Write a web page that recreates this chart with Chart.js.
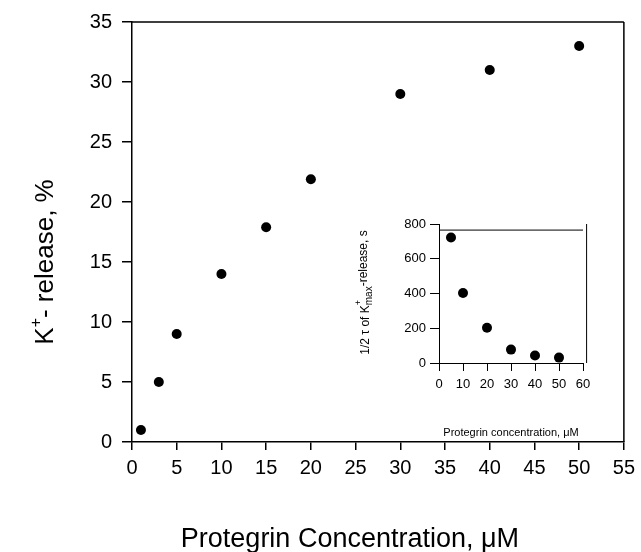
<!DOCTYPE html>
<html lang="en">
<head>
<meta charset="UTF-8">
<title>Protegrin K+ release</title>
<style>
  html, body { margin: 0; padding: 0; background: #fff; }
  .wrap { position: relative; width: 641px; height: 552px; }
  #mainChart { position: absolute; left: 0; top: 0; }
  #insetChart { position: absolute; left: 340px; top: 200px; }
</style>
</head>
<body>
<div class="wrap">
  <canvas id="mainChart" width="641" height="552"></canvas>
  <canvas id="insetChart" width="260" height="240"></canvas>
</div>
<script src="https://cdn.jsdelivr.net/npm/chart.js"></script>
<script>
// main panel: K+ release vs protegrin concentration
var concMain = [1, 3, 5, 10, 15, 20, 30, 40, 50];
var releaseMain = [1, 5, 9, 14, 17.9, 21.9, 29, 31, 33];

// inset: half time of max K+ release
var concInset = [5, 10, 20, 30, 40, 50];
var halfTimeInset = [722, 403, 203, 77, 43, 31];

var FONT = '"Liberation Sans", Arial, sans-serif';
Chart.defaults.font.family = FONT;
Chart.defaults.color = '#000';

function toPoints(xs, ys) {
    return xs.map(function (x, i) { return { x: x, y: ys[i] }; });
}

// rotated axis title with super/subscripts
function drawRich(ctx, cx, cy, parts, size) {
    ctx.save();
    ctx.translate(cx, cy);
    ctx.rotate(-Math.PI / 2);
    ctx.fillStyle = '#000';
    ctx.textBaseline = 'alphabetic';
    var total = 0;
    parts.forEach(function (p) {
        ctx.font = (p.size || size) + 'px ' + FONT;
        p.w = ctx.measureText(p.text).width;
        if (!p.noAdvance) total += p.w;
    });
    var x = -total / 2;
    var base = size * 0.35;
    parts.forEach(function (p) {
        ctx.font = (p.size || size) + 'px ' + FONT;
        ctx.fillText(p.text, x, base + (p.dy || 0));
        if (!p.noAdvance) x += p.w;
    });
    ctx.restore();
}

var framePlugin = {
    id: 'frame',
    afterDraw: function (chart, args, opts) {
        var ctx = chart.ctx, a = chart.chartArea, s = chart.scales;
        var top = opts.topValue != null ? s.y.getPixelForValue(opts.topValue) : a.top;
        var right = opts.rightValue != null ? s.x.getPixelForValue(opts.rightValue) : a.right;
        ctx.save();
        ctx.strokeStyle = '#000';
        ctx.lineWidth = opts.lineWidth;
        ctx.beginPath();
        ctx.moveTo(a.left, top);
        ctx.lineTo(a.right, top);
        ctx.moveTo(right, a.top);
        ctx.lineTo(right, a.bottom);
        ctx.stroke();
        if (opts.xTitle) {
            var xt = opts.xTitle;
            ctx.font = xt.size + 'px ' + FONT;
            ctx.fillStyle = '#000';
            ctx.textAlign = 'center';
            ctx.textBaseline = 'alphabetic';
            ctx.fillText(xt.text, (a.left + a.right) / 2 + xt.dx, xt.baseline);
        }
        ctx.restore();
        var t = opts.yTitle;
        drawRich(ctx, t.x, (a.top + a.bottom) / 2 + t.dy, t.parts, t.size);
    }
};

function axisOpts(min, max, step, fontSize, tickLen, pad, lw) {
    return {
        type: 'linear',
        min: min,
        max: max,
        ticks: { stepSize: step, color: '#000', font: { size: fontSize }, padding: pad, maxRotation: 0 },
        grid: { drawOnChartArea: false, drawTicks: true, tickLength: tickLen, color: '#000', lineWidth: lw },
        border: { display: true, color: '#000', width: lw }
    };
}

// main chart
var mx = axisOpts(0, 55, 5, 20, 8, 6, 1.5);
mx.afterFit = function (scale) { scale.height = 110; };
var my = axisOpts(0, 35, 5, 20, 10, 10, 1.5);
my.afterFit = function (scale) { scale.width = 132; };

new Chart(document.getElementById('mainChart'), {
    type: 'scatter',
    data: {
        datasets: [{
            data: toPoints(concMain, releaseMain),
            pointRadius: 5,
            pointBackgroundColor: '#000',
            pointBorderWidth: 0
        }]
    },
    options: {
        responsive: false,
        animation: false,
        layout: { padding: { top: 22, right: 14, left: 0, bottom: 0 } },
        scales: { x: mx, y: my },
        plugins: {
            legend: { display: false },
            tooltip: { enabled: false },
            frame: {
                lineWidth: 1.5,
                xTitle: { text: 'Protegrin Concentration, μM', size: 27, dx: -28, baseline: 547 },
                yTitle: {
                    x: 44, dy: 30, size: 26,
                    parts: [{ text: 'K' }, { text: '+', size: 16, dy: -12 }, { text: '- release, %' }]
                }
            }
        }
    },
    plugins: [framePlugin]
});

// inset chart
var ix = axisOpts(0, 60, 10, 13, 8, 6, 1);
ix.title = { display: true, text: 'Protegrin concentration, μM', color: '#000',
    font: { size: 11, lineHeight: 1 }, padding: { top: 0, bottom: 2 } };
ix.afterFit = function (scale) { scale.height = 77; };
var iy = axisOpts(0, 800, 100, 13, 9, 4, 1);
iy.ticks.callback = function (v) { return v % 200 === 0 ? v : ''; };
iy.afterFit = function (scale) { scale.width = 99; };

new Chart(document.getElementById('insetChart'), {
    type: 'scatter',
    data: {
        datasets: [{
            data: toPoints(concInset, halfTimeInset),
            pointRadius: 5,
            pointBackgroundColor: '#000',
            pointBorderWidth: 0
        }]
    },
    options: {
        responsive: false,
        animation: false,
        layout: { padding: { top: 24, right: 17, left: 0, bottom: 0 } },
        scales: { x: ix, y: iy },
        plugins: {
            legend: { display: false },
            tooltip: { enabled: false },
            frame: {
                lineWidth: 1,
                topValue: 765,
                rightValue: 61.5,
                yTitle: {
                    x: 25, dy: -1, size: 12,
                    parts: [{ text: '1/2 τ of K' }, { text: '+', size: 9, dy: -8, noAdvance: true },
                        { text: 'max', size: 10, dy: 3 }, { text: '-release, s', dy: -2 }]
                }
            }
        }
    },
    plugins: [framePlugin]
});
</script>
</body>
</html>
